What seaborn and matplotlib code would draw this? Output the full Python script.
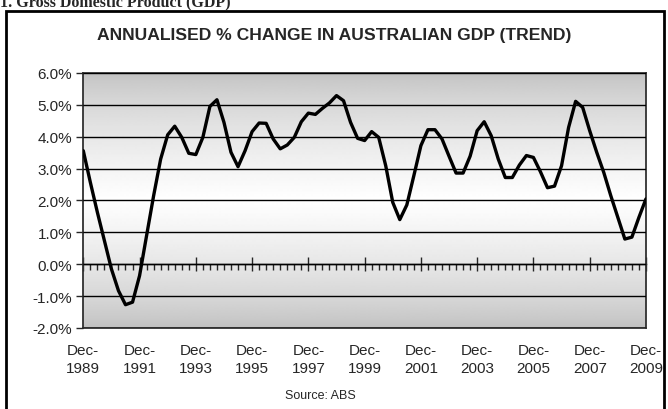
import numpy as np
import pandas as pd
import seaborn as sns
import matplotlib.pyplot as plt
from matplotlib.patches import Rectangle
from matplotlib.ticker import FixedLocator, MultipleLocator, PercentFormatter

# annualised % change in GDP, quarterly from Dec-1989 to Dec-2009
gdp_growth = [3.56, 2.57, 1.63, 0.74, -0.15, -0.83, -1.27, -1.19, -0.36, 0.90,
              2.15, 3.30, 4.06, 4.33, 3.98, 3.48, 3.44, 3.98, 4.95, 5.16,
              4.45, 3.51, 3.06, 3.56, 4.16, 4.43, 4.42, 3.93, 3.62, 3.74,
              3.98, 4.47, 4.74, 4.70, 4.89, 5.06, 5.29, 5.13, 4.45, 3.95,
              3.88, 4.16, 3.98, 3.09, 1.94, 1.40, 1.86, 2.78, 3.72, 4.22,
              4.22, 3.93, 3.39, 2.86, 2.86, 3.39, 4.19, 4.47, 4.03, 3.30,
              2.72, 2.72, 3.11, 3.41, 3.35, 2.90, 2.40, 2.45, 3.09, 4.29,
              5.11, 4.92, 4.19, 3.51, 2.88, 2.15, 1.47, 0.79, 0.85, 1.47, 2.05]
label_years = [1989, 1991, 1993, 1995, 1997, 1999, 2001, 2003, 2005, 2007, 2009]

df = pd.DataFrame({"q": np.arange(len(gdp_growth)), "growth": gdp_growth})

sns.set_style("white")
plt.rcParams['font.family'] = ['Liberation Sans', 'DejaVu Sans']
plt.rcParams['axes.unicode_minus'] = False

fig = plt.figure(figsize=(6.68, 4.10), dpi=100)
ax = fig.add_axes([0.1247, 0.1976, 0.8423, 0.622])

# grey -> white -> grey background
t = np.linspace(0, 1, 256)
shade = 0.75 + 0.25 * (1 - np.abs(t - 0.5) * 2) ** 0.7
ax.imshow(shade[:, None], extent=[0, 1, 0, 1], transform=ax.transAxes,
          cmap='gray', vmin=0, vmax=1, aspect='auto', zorder=0)

sns.lineplot(data=df, x="q", y="growth", color="black", lw=2.4, ax=ax, zorder=3)

ax.set_xlim(0, len(gdp_growth) - 1)
ax.set_ylim(-2, 6)
ax.yaxis.set_major_locator(MultipleLocator(1))
ax.yaxis.set_major_formatter(PercentFormatter(decimals=1))
ax.grid(axis='y', color='black', lw=1.0)
ax.set_axisbelow(False)
for s in ax.spines.values():
    s.set_color('#303030')
    s.set_linewidth(1.3)
ax.tick_params(axis='y', left=True, direction='out', length=5, width=1,
               labelsize=11, pad=3)

# category labels at the bottom
ax.xaxis.set_major_locator(FixedLocator(list(range(0, len(gdp_growth), 8))))
ax.set_xticklabels([f"Dec-\n{y}" for y in label_years], fontsize=11,
                   linespacing=1.3)
ax.tick_params(axis='x', bottom=True, length=0, pad=11)
ax.set_xlabel("")
ax.set_ylabel("")

# category axis crossing at 0%
sec = ax.secondary_xaxis(0.25)
sec.xaxis.set_major_locator(FixedLocator(list(range(0, len(gdp_growth), 8))))
sec.xaxis.set_minor_locator(MultipleLocator(1))
sec.tick_params(which='major', direction='inout', length=10, width=1, labelbottom=False)
sec.tick_params(which='minor', direction='out', length=4, width=1)
sec.spines['bottom'].set_linewidth(1.0)
sec.spines['bottom'].set_color('black')

fig.text(0.5, 0.913, "ANNUALISED % CHANGE IN AUSTRALIAN GDP (TREND)",
         ha='center', va='center', fontsize=12.6, fontweight='bold')
fig.text(0.48, 0.035, "Source: ABS", ha='center', va='center', fontsize=9)
fig.text(0.0, 0.984, "1. Gross Domestic Product (GDP)", ha='left', va='baseline',
         fontsize=11.5, fontweight='bold', family=['Liberation Serif', 'DejaVu Serif'])

fig.patches.append(Rectangle((0.009, -0.05), 0.985, 1.05 - 0.029, transform=fig.transFigure,
                             fill=False, edgecolor='black', lw=2))

fig.savefig("out.png", dpi=100)
